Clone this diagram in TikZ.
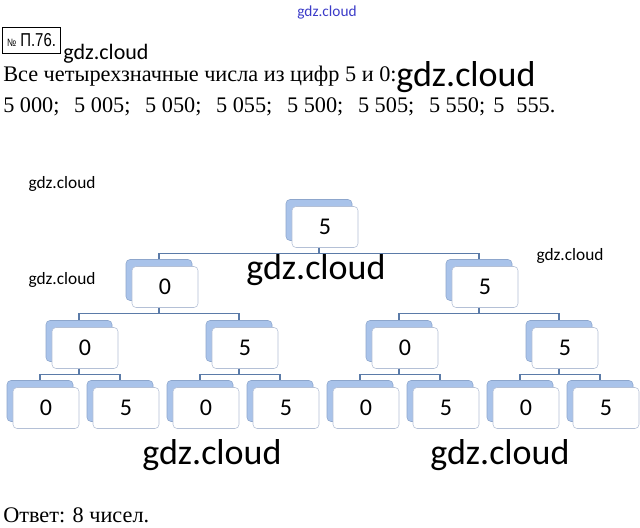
\documentclass[tikz,border=0pt]{standalone}
\usepackage{fontspec}
\setmainfont{Liberation Serif}
\newfontfamily\boxfont{Carlito}
\newfontfamily\narrowfont[FakeStretch=0.8]{Liberation Sans}
\usetikzlibrary{positioning,calc}
\definecolor{cBack}{HTML}{A9C3EA}
\definecolor{cBackLine}{HTML}{8DA6CC}
\definecolor{cFrontLine}{HTML}{B4C0D6}
\definecolor{cLink}{HTML}{5B7BA8}
\definecolor{cMark}{HTML}{3B3BC8}
\tikzset{
  backbox/.style={draw=cBackLine, fill=cBack, rounded corners=3pt,
                  minimum width=49.5pt, minimum height=30.75pt, inner sep=0pt},
  frontbox/.style={draw=cFrontLine, fill=white, rounded corners=3pt,
                   minimum width=49.5pt, minimum height=30.75pt, inner sep=0pt,
                   font=\boxfont\fontsize{18}{18}\selectfont},
  link/.style={draw=cLink, line width=0.9pt},
  wm/.style={font=\boxfont, inner sep=0pt},
  line/.style={font=\fontsize{16.7}{18}\selectfont, inner sep=0pt, anchor=west},
}
% back plate and front card of one digit
\newcommand\digitpair[4]{%
  \node[backbox] (#1b) at (#2-6,#3-7) {};
  \node[frontbox] (#1) at (#2,#3) {#4};
}

\begin{document}
\begin{tikzpicture}[x=0.75pt,y=-0.75pt]
\useasboundingbox (0,0) rectangle (640,528);

% ---------------------------------------------- heading
\node[wm, text=cMark, font=\boxfont\fontsize{11.5}{12}\selectfont] (wmtop) at (327,12) {gdz.cloud};
\node[draw, line width=0.9pt, inner sep=2pt, minimum width=43pt, minimum height=19pt,
      font=\narrowfont\fontsize{14}{14}\selectfont] (num) at (31.5,40.5)
      {{\fontsize{8}{8}\selectfont №} П.76.};
\node[wm, font=\boxfont\fontsize{16.5}{17}\selectfont] (wm1) at (106,54) {gdz.cloud};
\node[line] (task) at (3,76) {Все четырехзначные числа из цифр 5 и 0:};
\node[wm, font=\boxfont\fontsize{27}{27}\selectfont] (wm2) at (466,77) {gdz.cloud};
\node[line] (list) at (3,107)
      {5 000;\hspace{11pt}5 005;\hspace{11pt}5 050;\hspace{11pt}5 055;\hspace{11pt}5 500;\hspace{11pt}5 505;\hspace{11pt}5 550;\hspace{6pt}5\hspace{9pt}555.};

% ---------------------------------------------- tree
\digitpair{t}{325}{227}{5}
\digitpair{t0}{165}{287}{0}
\digitpair{t5}{485}{287}{5}
\foreach \d/\x/\v in {00/85/0,05/245/5,50/405/0,55/565/5}{
  \digitpair{t\d}{\x}{348}{\v}
}
\foreach \d/\x/\v in {000/46/0,005/126/5,050/206/0,055/286/5,500/366/0,505/446/5,550/526/0,555/606/5}{
  \digitpair{t\d}{\x}{408}{\v}
}

\foreach \p/\c in {t/t0,t/t5,t0/t00,t0/t05,t5/t50,t5/t55,
                   t00/t000,t00/t005,t05/t050,t05/t055,t50/t500,t50/t505,t55/t550,t55/t555}
  \draw[link] (\p b |- \p.south) -- ++(0,6) -| (\c b.north);

% ---------------------------------------------- marks
\node[wm, font=\boxfont\fontsize{13}{13}\selectfont] (wm3) at (62,184) {gdz.cloud};
\node[wm, font=\boxfont\fontsize{13}{13}\selectfont] (wm4) at (62,280) {gdz.cloud};
\node[wm, font=\boxfont\fontsize{13}{13}\selectfont] (wm5) at (570,256) {gdz.cloud};
\node[wm, font=\boxfont\fontsize{27}{27}\selectfont] (wm6) at (316,270) {gdz.cloud};
\node[wm, font=\boxfont\fontsize{27}{27}\selectfont] (wm7) at (212,455) {gdz.cloud};
\node[wm, font=\boxfont\fontsize{27}{27}\selectfont] (wm8) at (500,455) {gdz.cloud};

% ---------------------------------------------- answer
\node[line] (answer) at (3,515) {Ответ: 8 чисел.};
\end{tikzpicture}
\end{document}
